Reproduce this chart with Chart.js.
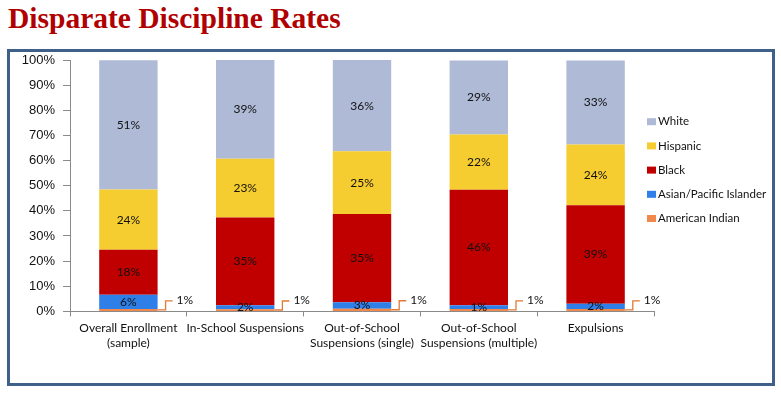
<!DOCTYPE html>
<html>
<head>
<meta charset="utf-8">
<script src="https://cdn.jsdelivr.net/npm/chart.js@4"></script>
<style>
  html, body { margin: 0; padding: 0; background: #fff; }
  body { width: 781px; height: 393px; position: relative; overflow: hidden; }
  #title {
    position: absolute; left: 8px; top: 2px;
    font-family: "Liberation Serif", "DejaVu Serif", serif;
    font-weight: bold; font-size: 29.5px; color: #b00000;
    letter-spacing: 0px;
  }
  #frame {
    position: absolute; left: 7px; top: 49px; width: 762px; height: 331px;
    border: 3px solid #3f6089;
  }
  #wrap { position: absolute; left: 0; top: 0; width: 781px; height: 393px; }
</style>
</head>
<body>
<div id="title">Disparate Discipline Rates</div>
<div id="frame"></div>
<div id="wrap"><canvas id="chart" width="781" height="393"></canvas></div>
<script>
const categories = [
    ['Overall Enrollment', '(sample)'],
    'In-School Suspensions',
    ['Out-of-School', 'Suspensions (single)'],
    ['Out-of-School', 'Suspensions (multiple)'],
    'Expulsions'
];
const americanIndian = [1.0, 0.9, 1.1, 1.0, 1.0];
const asianPacific = [5.6, 1.5, 2.5, 1.4, 2.0];
const black = [17.9, 35.0, 35.1, 46.0, 39.2];
const hispanic = [24.0, 23.3, 25.0, 22.0, 24.2];
const white = [51.4, 39.3, 36.3, 29.4, 33.4];
const yTicks = [0, 10, 20, 30, 40, 50, 60, 70, 80, 90, 100];

const series = [
    { label: 'American Indian', data: americanIndian, color: '#f0894b' },
    { label: 'Asian/Pacific Islander', data: asianPacific, color: '#2f7fe8' },
    { label: 'Black', data: black, color: '#c00000' },
    { label: 'Hispanic', data: hispanic, color: '#f5cd30' },
    { label: 'White', data: white, color: '#aebad6' }
];

const labelFont = '12px Lato, "Open Sans", sans-serif';

// value labels + leader line for the small bottom segment
const valueLabels = {
    id: 'valueLabels',
    afterDatasetsDraw(chart) {
        const { ctx } = chart;
        ctx.save();
        ctx.font = labelFont;
        ctx.textBaseline = 'middle';
        chart.data.datasets.forEach((ds, di) => {
            const meta = chart.getDatasetMeta(di);
            meta.data.forEach((bar, i) => {
                const { x, y, base, width } = bar.getProps(['x', 'y', 'base', 'width'], true);
                const text = Math.round(ds.data[i]) + '%';
                const cy = (y + base) / 2;
                if (di === 0) {
                    const rx = x + width / 2;
                    ctx.strokeStyle = '#e07a35';
                    ctx.lineWidth = 1.3;
                    ctx.beginPath();
                    ctx.moveTo(rx, cy);
                    ctx.lineTo(rx + 8, cy);
                    ctx.lineTo(rx + 8, cy - 9);
                    ctx.lineTo(rx + 15, cy - 9);
                    ctx.stroke();
                    ctx.fillStyle = '#111';
                    ctx.textAlign = 'left';
                    ctx.fillText(text, rx + 19, cy - 10);
                } else {
                    ctx.fillStyle = '#111';
                    ctx.textAlign = 'center';
                    ctx.fillText(text, x, cy);
                }
            });
        });
        ctx.restore();
    }
};

// legend at the right, top item = last dataset
const sideLegend = {
    id: 'sideLegend',
    afterDraw(chart) {
        const { ctx } = chart;
        const left = 647, top = 121.7, step = 24.2;
        ctx.save();
        ctx.font = '11.5px Lato, "Open Sans", sans-serif';
        ctx.textBaseline = 'middle';
        ctx.textAlign = 'left';
        const items = chart.data.datasets.slice().reverse();
        items.forEach((ds, k) => {
            const cy = top + k * step;
            ctx.fillStyle = ds.backgroundColor;
            ctx.fillRect(left, cy - 3.5, 9, 7);
            ctx.fillStyle = '#111';
            ctx.fillText(ds.label, left + 11, cy);
        });
        ctx.restore();
    }
};

new Chart(document.getElementById('chart'), {
    type: 'bar',
    data: {
        labels: categories,
        datasets: series.map(s => ({
            label: s.label,
            data: s.data,
            backgroundColor: s.color,
            borderWidth: 0,
            categoryPercentage: 1,
            barPercentage: 0.5
        }))
    },
    options: {
        responsive: false,
        animation: false,
        layout: { padding: { left: 20, top: 60, right: 127, bottom: 38 } },
        plugins: {
            legend: { display: false },
            tooltip: { enabled: false }
        },
        scales: {
            x: {
                stacked: true,
                offset: true,
                grid: { offset: true, drawOnChartArea: false, drawTicks: true, tickLength: 5, color: '#8a8a8a' },
                border: { color: '#8a8a8a' },
                ticks: {
                    font: { family: 'Lato, "Open Sans", sans-serif', size: 12, lineHeight: 1.25 },
                    color: '#111',
                    padding: 4,
                    maxRotation: 0,
                    autoSkip: false
                },
                afterFit(scale) { scale.height = 393 - 38 - 311.4; }
            },
            y: {
                stacked: true,
                min: 0,
                max: 100,
                afterBuildTicks(scale) { scale.ticks = yTicks.map(v => ({ value: v })); },
                grid: { drawOnChartArea: false, drawTicks: true, tickLength: 7, color: '#8a8a8a' },
                border: { color: '#8a8a8a' },
                ticks: {
                    font: { family: '"Liberation Sans", Arial, sans-serif', size: 13 },
                    color: '#111',
                    padding: 8,
                    callback: v => v + '%'
                },
                afterFit(scale) { scale.width = 50; }
            }
        }
    },
    plugins: [valueLabels, sideLegend]
});
</script>
</body>
</html>
